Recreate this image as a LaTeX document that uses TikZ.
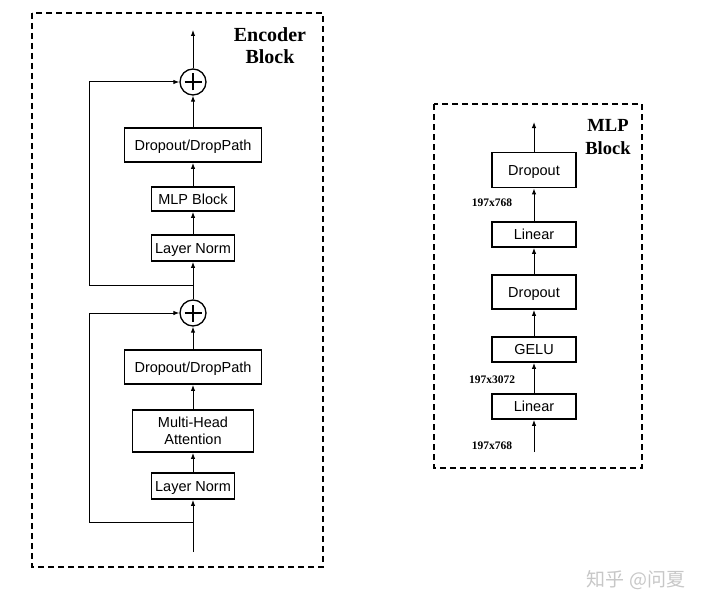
\documentclass[tikz,border=0pt]{standalone}
\usepackage{fontspec}
\setmainfont{Liberation Serif}
\newfontfamily\boxfont{Liberation Sans}
\newfontfamily\cjk{Noto Sans CJK SC}
\usetikzlibrary{arrows.meta,calc}
\tikzset{>={Latex[length=6pt,width=4.5pt]}}
\tikzset{
  layer/.style={draw, line width=1.8pt, inner sep=0pt, text height=10.5pt, text depth=0pt, font=\boxfont\fontsize{14.5}{17}\selectfont},
  plus/.style={draw, circle, line width=1.3pt, minimum size=26pt, inner sep=0pt,
    path picture={\draw[line width=1.3pt] ([xshift=-8.5pt]path picture bounding box.center) -- ([xshift=8.5pt]path picture bounding box.center);
      \draw[line width=1.3pt] ([yshift=-8.5pt]path picture bounding box.center) -- ([yshift=8.5pt]path picture bounding box.center);}},
  frame/.style={draw, line width=1.8pt, dash pattern=on 6pt off 4pt},
  title/.style={align=center, font=\bfseries\fontsize{20}{22}\selectfont},
  dim/.style={font=\bfseries\fontsize{11.5}{13}\selectfont}
}
\begin{document}
\begin{tikzpicture}[x=1pt, y=-1pt, line width=1pt]
    \useasboundingbox (0,0) rectangle (708,607);

    % encoder block
    \draw [frame] (32,13) rectangle (323,567);
    \node at (270,46) [title] (enc){Encoder\\Block};
    \node at (193,82) [plus] (add1){};
    \node at (193,145) [layer, minimum width=137pt, minimum height=34pt] (drop1){Dropout/DropPath};
    \node at (193,199) [layer, minimum width=83pt, minimum height=24pt] (mlp){MLP Block};
    \node at (193,248) [layer, minimum width=83pt, minimum height=26pt] (norm1){Layer Norm};
    \node at (193,313) [plus] (add2){};
    \node at (193,367) [layer, minimum width=137pt, minimum height=34pt] (drop2){Dropout/DropPath};
    \node at (193,431) [layer, minimum width=121pt, minimum height=42pt, text height=, text depth=, align=center] (attn){Multi-Head\\Attention};
    \node at (193,486) [layer, minimum width=83pt, minimum height=26pt] (norm2){Layer Norm};
    \coordinate (out1) at (193,30);
    \coordinate (in1) at (193,552);
    \coordinate (fork1) at (193,285);
    \coordinate (fork2) at (193,522);
    \foreach \a/\b in {in1/norm2, norm2/attn, attn/drop2, drop2/add2, add2/norm1, norm1/mlp, mlp/drop1, drop1/add1, add1/out1}
    \draw [->] (\a) -- (\b);
    \draw [->] (fork2) --++ (-104,0) |- (add2);
    \draw [->] (fork1) --++ (-104,0) |- (add1);

    % mlp block
    \draw [frame] (434,104) rectangle (642,468);
    \node at (608,137) [title, font=\bfseries\fontsize{18.5}{23}\selectfont] (mlptitle){MLP\\Block};
    \node at (534,170) [layer, minimum width=84pt, minimum height=35pt] (fc2drop){Dropout};
    \node at (534,234.5) [layer, minimum width=84pt, minimum height=25pt] (fc2){Linear};
    \node at (534,292) [layer, minimum width=84pt, minimum height=34pt] (fc1drop){Dropout};
    \node at (534,349.5) [layer, minimum width=84pt, minimum height=25pt] (act){GELU};
    \node at (534,406.5) [layer, minimum width=84pt, minimum height=25pt] (fc1){Linear};
    \coordinate (out2) at (534,122);
    \coordinate (in2) at (534,452);
    \foreach \a/\b in {in2/fc1, fc1/act, act/fc1drop, fc1drop/fc2, fc2/fc2drop, fc2drop/out2}
    \draw [->] (\a) -- (\b);
    \node at (492,203) [dim] (d1){197x768};
    \node at (492,380) [dim] (d2){197x3072};
    \node at (492,446) [dim] (d3){197x768};

    \node at (636,580) [text=black!22, font=\cjk\fontsize{19}{20}\selectfont] (mark){知乎 @问夏};
\end{tikzpicture}
\end{document}
